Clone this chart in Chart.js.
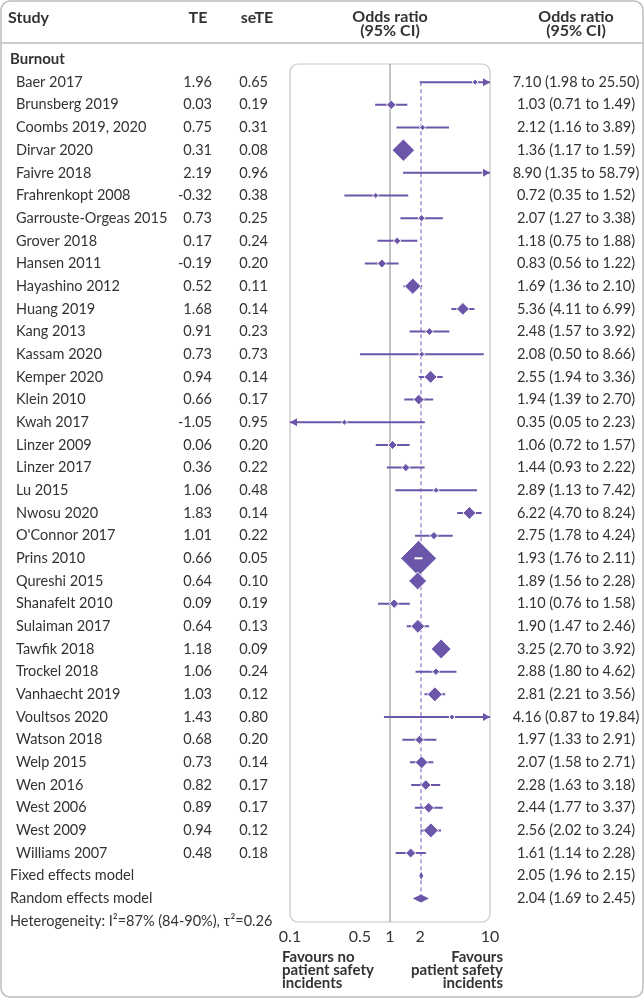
<!DOCTYPE html>
<html>
<head>
<meta charset="utf-8">
<script src="https://cdn.jsdelivr.net/npm/chart.js@4.4.1/dist/chart.umd.min.js"></script>
<style>
html,body{margin:0;padding:0;background:#fff;}
#wrap{width:644px;height:1000px;position:relative;}
</style>
</head>
<body>
<div id="wrap"><canvas id="c" width="644" height="1000"></canvas></div>
<script>
// ---------- data ----------
const studies = ["Baer 2017","Brunsberg 2019","Coombs 2019, 2020","Dirvar 2020","Faivre 2018","Frahrenkopt 2008","Garrouste-Orgeas 2015","Grover 2018","Hansen 2011","Hayashino 2012","Huang 2019","Kang 2013","Kassam 2020","Kemper 2020","Klein 2010","Kwah 2017","Linzer 2009","Linzer 2017","Lu 2015","Nwosu 2020","O'Connor 2017","Prins 2010","Qureshi 2015","Shanafelt 2010","Sulaiman 2017","Tawfik 2018","Trockel 2018","Vanhaecht 2019","Voultsos 2020","Watson 2018","Welp 2015","Wen 2016","West 2006","West 2009","Williams 2007"];
const te   = [1.96,0.03,0.75,0.31,2.19,-0.32,0.73,0.17,-0.19,0.52,1.68,0.91,0.73,0.94,0.66,-1.05,0.06,0.36,1.06,1.83,1.01,0.66,0.64,0.09,0.64,1.18,1.06,1.03,1.43,0.68,0.73,0.82,0.89,0.94,0.48];
const seTE = [0.65,0.19,0.31,0.08,0.96,0.38,0.25,0.24,0.20,0.11,0.14,0.23,0.73,0.14,0.17,0.95,0.20,0.22,0.48,0.14,0.22,0.05,0.10,0.19,0.13,0.09,0.24,0.12,0.80,0.20,0.14,0.17,0.17,0.12,0.18];
const orEst  = [7.10,1.03,2.12,1.36,8.90,0.72,2.07,1.18,0.83,1.69,5.36,2.48,2.08,2.55,1.94,0.35,1.06,1.44,2.89,6.22,2.75,1.93,1.89,1.10,1.90,3.25,2.88,2.81,4.16,1.97,2.07,2.28,2.44,2.56,1.61];
const orLow  = [1.98,0.71,1.16,1.17,1.35,0.35,1.27,0.75,0.56,1.36,4.11,1.57,0.50,1.94,1.39,0.05,0.72,0.93,1.13,4.70,1.78,1.76,1.56,0.76,1.47,2.70,1.80,2.21,0.87,1.33,1.58,1.63,1.77,2.02,1.14];
const orHigh = [25.50,1.49,3.89,1.59,58.79,1.52,3.38,1.88,1.22,2.10,6.99,3.92,8.66,3.36,2.70,2.23,1.57,2.22,7.42,8.24,4.24,2.11,2.28,1.58,2.46,3.92,4.62,3.56,19.84,2.91,2.71,3.18,3.37,3.24,2.28];
const summaryLabels = ["Fixed effects model","Random effects model"];
const summaryEst  = [2.05,2.04];
const summaryLow  = [1.96,1.69];
const summaryHigh = [2.15,2.45];
const groupLabel = "Burnout";
const heterogeneity = "Heterogeneity: I\u00B2=87% (84-90%), \u03C4\u00B2=0.26";
const xTicks = [0.1,0.5,1,2,10];
const xTickLabels = ["0.1","0.5","1","2","10"];
const favoursLeft = ["Favours no","patient safety","incidents"];
const favoursRight = ["Favours","patient safety","incidents"];

// ---------- style ----------
const PURPLE = "#6b56aa";
const DASH = "#a797d6";
const TXT = "#333333";
const GRID = "#bdbdbd";
const FONT = "Lato";
const XMIN = 0.1, XMAX = 10;
const fmt = v => v.toFixed(2);

const n = studies.length;
const clamp = v => Math.min(XMAX, Math.max(XMIN, v));
const lineData = [];
studies.forEach((s,i)=>{
  lineData.push({x:clamp(orLow[i]), y:i});
  lineData.push({x:clamp(orHigh[i]), y:i});
  lineData.push({x:null, y:null});
});
const pointData = studies.map((s,i)=>({x:orEst[i], y:i}));
const pointRadius = seTE.map(s => Math.max(3, 0.9/s));

function rr(ctx,x,y,w,h,r){
  ctx.beginPath();
  ctx.moveTo(x+r,y);ctx.lineTo(x+w-r,y);ctx.arcTo(x+w,y,x+w,y+r,r);
  ctx.lineTo(x+w,y+h-r);ctx.arcTo(x+w,y+h,x+w-r,y+h,r);
  ctx.lineTo(x+r,y+h);ctx.arcTo(x,y+h,x,y+h-r,r);
  ctx.lineTo(x,y+r);ctx.arcTo(x,y,x+r,y,r);ctx.closePath();
}

const forestPlugin = {
  id:'forest',
  beforeDraw(chart){
    const ctx = chart.ctx, a = chart.chartArea, xs = chart.scales.x, ys = chart.scales.y;
    ctx.save();
    ctx.fillStyle = "#fff"; ctx.fillRect(0,0,chart.width,chart.height);
    ctx.strokeStyle = GRID; ctx.lineWidth = 1.5;
    rr(ctx,1,1,642,996,9); ctx.stroke();
    ctx.beginPath(); ctx.moveTo(1,43); ctx.lineTo(643,43); ctx.stroke();
    ctx.strokeStyle = "#c6c6c6"; ctx.lineWidth = 1.2;
    rr(ctx,a.left,a.top,a.right-a.left,a.bottom-a.top,8); ctx.stroke();
    const x1 = xs.getPixelForValue(1);
    ctx.strokeStyle = "#9c9c9c"; ctx.lineWidth = 1.2;
    ctx.beginPath(); ctx.moveTo(x1,a.top); ctx.lineTo(x1,a.bottom); ctx.stroke();
    const xr = xs.getPixelForValue(summaryEst[1]);
    ctx.strokeStyle = DASH; ctx.lineWidth = 1.6; ctx.setLineDash([4,3]);
    ctx.beginPath(); ctx.moveTo(xr, ys.getPixelForValue(0)); ctx.lineTo(xr, ys.getPixelForValue(n+1)); ctx.stroke();
    ctx.restore();
  },
  afterDatasetsDraw(chart){
    const ctx = chart.ctx, xs = chart.scales.x, ys = chart.scales.y;
    ctx.save();
    ctx.fillStyle = PURPLE;
    studies.forEach((s,i)=>{
      const y = ys.getPixelForValue(i);
      if (orHigh[i] > XMAX){
        const xe = xs.getPixelForValue(XMAX);
        ctx.beginPath(); ctx.moveTo(xe,y); ctx.lineTo(xe-7,y-4); ctx.lineTo(xe-7,y+4); ctx.closePath(); ctx.fill();
      }
      if (orLow[i] < XMIN){
        const xe = xs.getPixelForValue(XMIN);
        ctx.beginPath(); ctx.moveTo(xe,y); ctx.lineTo(xe+7,y-4); ctx.lineTo(xe+7,y+4); ctx.closePath(); ctx.fill();
      }
      if (pointRadius[i] > 14){
        ctx.strokeStyle = "#fff"; ctx.lineWidth = 2;
        ctx.beginPath(); ctx.moveTo(xs.getPixelForValue(orLow[i]),y); ctx.lineTo(xs.getPixelForValue(orHigh[i]),y); ctx.stroke();
      }
    });
    summaryEst.forEach((e,k)=>{
      const y = ys.getPixelForValue(n+k);
      const xl = xs.getPixelForValue(summaryLow[k]), xh = xs.getPixelForValue(summaryHigh[k]), xe = xs.getPixelForValue(e);
      const h = 4;
      ctx.beginPath(); ctx.moveTo(xl,y); ctx.lineTo(xe,y-h); ctx.lineTo(xh,y); ctx.lineTo(xe,y+h); ctx.closePath();
      ctx.fill();
    });
    ctx.restore();
  },
  afterDraw(chart){
    const ctx = chart.ctx, xs = chart.scales.x, ys = chart.scales.y;
    ctx.save();
    ctx.fillStyle = TXT; ctx.textBaseline = "middle";
    ctx.font = `bold 16px ${FONT}`;
    ctx.textAlign = "left"; ctx.fillText("Study", 8, 18);
    ctx.textAlign = "center";
    ctx.fillText("TE", 198, 18);
    ctx.fillText("seTE", 257, 18);
    ctx.fillText("Odds ratio", 390, 17); ctx.fillText("(95% CI)", 390, 31);
    ctx.fillText("Odds ratio", 576, 17); ctx.fillText("(95% CI)", 576, 31);
    ctx.textAlign = "left";
    ctx.font = `bold 15px ${FONT}`;
    ctx.fillText(groupLabel, 10, ys.getPixelForValue(-1));
    ctx.font = `14.5px ${FONT}`;
    studies.forEach((s,i)=>{
      const y = ys.getPixelForValue(i);
      ctx.textAlign = "left"; ctx.fillText(s, 16, y);
      ctx.textAlign = "right";
      ctx.fillText(fmt(te[i]), 212, y);
      ctx.fillText(fmt(seTE[i]), 268, y);
      ctx.textAlign = "center";
      ctx.fillText(`${fmt(orEst[i])} (${fmt(orLow[i])} to ${fmt(orHigh[i])})`, 576, y);
    });
    summaryLabels.forEach((s,k)=>{
      const y = ys.getPixelForValue(n+k);
      ctx.textAlign = "left"; ctx.fillText(s, 10, y);
      ctx.textAlign = "center";
      ctx.fillText(`${fmt(summaryEst[k])} (${fmt(summaryLow[k])} to ${fmt(summaryHigh[k])})`, 576, y);
    });
    ctx.textAlign = "left";
    ctx.fillText(heterogeneity, 10, ys.getPixelForValue(n+2));
    ctx.textAlign = "center";
    ctx.font = `16px ${FONT}`;
    xTicks.forEach((v,k)=> ctx.fillText(xTickLabels[k], xs.getPixelForValue(v), 937));
    ctx.font = `bold 15px ${FONT}`;
    favoursLeft.forEach((t,k)=>{ ctx.textAlign="left"; ctx.fillText(t, 282, 957+k*13); });
    favoursRight.forEach((t,k)=>{ ctx.textAlign="right"; ctx.fillText(t, 503, 957+k*13); });
    ctx.restore();
  }
};

new Chart(document.getElementById('c'), {
  type: 'scatter',
  data: {
    datasets: [
      { type:'line', data: lineData, borderColor: PURPLE, borderWidth: 2, pointRadius: 0, spanGaps:false, fill:false, order: 2, clip: 0, tension:0 },
      { type:'scatter', data: pointData, pointStyle:'rectRot', pointRadius: pointRadius, pointBackgroundColor: PURPLE, pointBorderColor:'#fff', pointBorderWidth: 1, order: 1, clip: false }
    ]
  },
  options: {
    responsive:false, animation:false, devicePixelRatio:1,
    layout:{ padding:{ left:290, right:154, top:64, bottom:78 } },
    scales:{
      x:{ type:'logarithmic', min:XMIN, max:XMAX, display:false },
      y:{ type:'linear', min:-0.8, max:37.04, reverse:true, display:false }
    },
    plugins:{ legend:{display:false}, tooltip:{enabled:false} },
    events: []
  },
  plugins:[forestPlugin]
});
</script>
</body>
</html>
